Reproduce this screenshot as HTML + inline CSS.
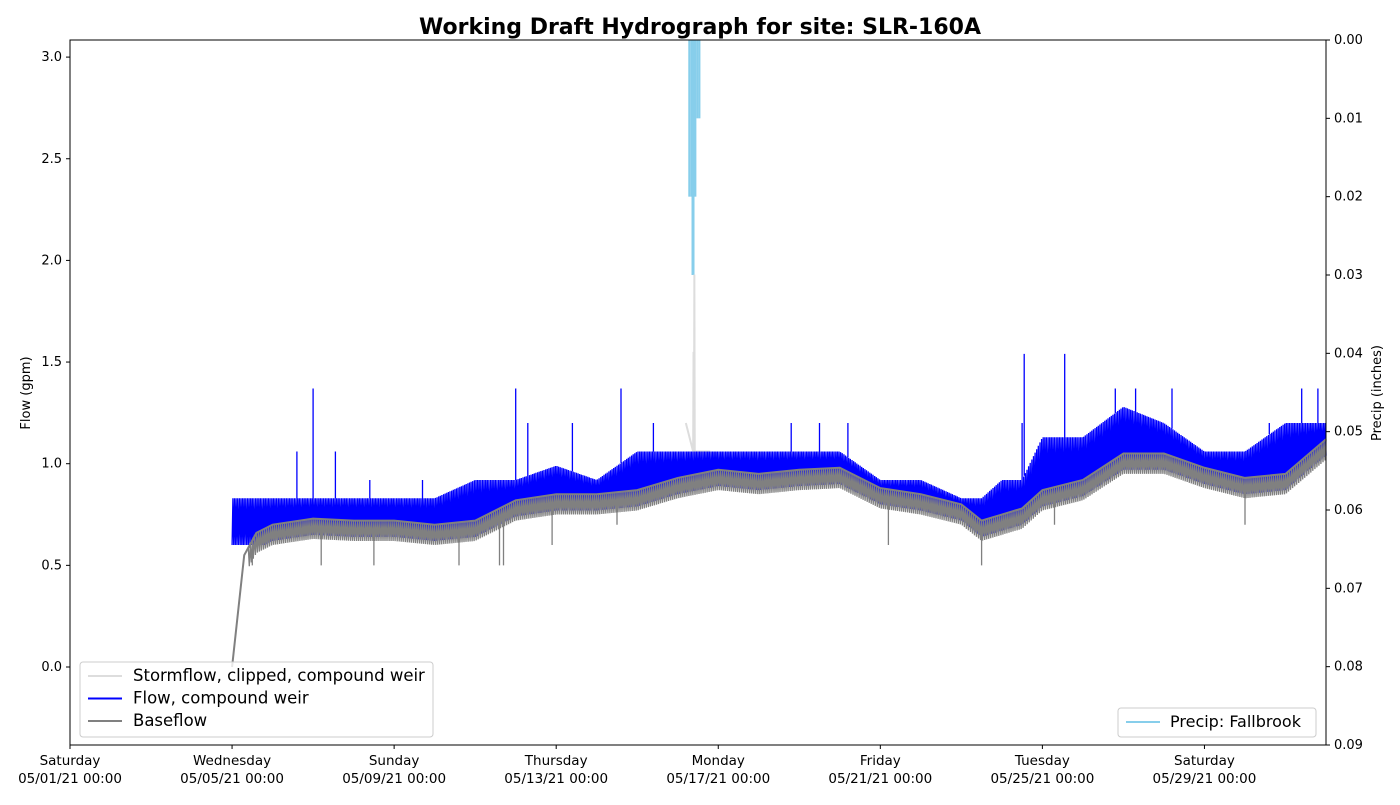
<!DOCTYPE html>
<html><head><meta charset="utf-8"><style>
body{margin:0;background:#fff;font-family:"Liberation Sans",sans-serif}
svg text{font-family:"DejaVu Sans","Liberation Sans",sans-serif}
</style></head><body>
<svg id="c" width="1400" height="800" xmlns="http://www.w3.org/2000/svg">
<rect width="1400" height="800" fill="#fff"/>
<text x="700" y="34" text-anchor="middle" font-size="22" font-weight="bold">Working Draft Hydrograph for site: SLR-160A</text>
<text transform="translate(30,393) rotate(-90)" text-anchor="middle" font-size="13">Flow (gpm)</text>
<text transform="translate(1381,393) rotate(-90)" text-anchor="middle" font-size="13">Precip (inches)</text>
<g id="plot"></g>
</svg>
<script>
const days=[4,4.3,4.6,5,6,7,8,9,10,11,12,13,14,15,16,17,18,19,20,21,22,22.5,23,23.5,24,25,26,27,28,29,30,31];
const baseflow=[0,0.55,0.66,0.7,0.73,0.72,0.72,0.7,0.72,0.82,0.85,0.85,0.87,0.93,0.97,0.95,0.97,0.98,0.88,0.85,0.8,0.72,0.75,0.78,0.87,0.92,1.05,1.05,0.98,0.93,0.95,1.12];
const flowHigh=[0.83,0.83,0.83,0.83,0.83,0.83,0.83,0.83,0.92,0.92,0.99,0.92,1.06,1.06,1.06,1.06,1.06,1.06,0.92,0.92,0.83,0.83,0.92,0.92,1.13,1.13,1.28,1.2,1.06,1.06,1.2,1.2];
const flowSpikeDays=[5.6,6.0,6.55,7.4,8.7,11.0,11.3,12.4,13.6,14.4,17.8,18.5,19.2,23.5,23.55,24.55,25.8,26.3,27.2,29.6,30.4,30.8];
const flowSpikeVals=[1.06,1.37,1.06,0.92,0.92,1.37,1.2,1.2,1.37,1.2,1.2,1.2,1.2,1.2,1.54,1.54,1.37,1.37,1.37,1.2,1.37,1.37];
const lowSpikeDays=[4.5,6.2,7.5,9.6,10.6,10.7,11.9,13.5,20.2,22.5,24.3,29.0];
const lowSpikeVals=[0.5,0.5,0.5,0.5,0.5,0.5,0.6,0.7,0.6,0.5,0.7,0.7];
const stormDays=[15.2,15.38,15.39,15.4,15.41,15.42,15.6,15.8];
const stormVals=[1.2,1.06,1.55,1.06,1.93,1.06,1.06,1.06];
const precipDays=[15.26,15.31,15.36,15.41,15.46,15.51];
const precipVals=[0.02,0.02,0.02,0.02,0.01,0.01];
const precipPeakDay=[15.34];const precipPeakVal=[0.03];
const xTickLabels=[["Saturday","05/01/21 00:00"],["Wednesday","05/05/21 00:00"],["Sunday","05/09/21 00:00"],["Thursday","05/13/21 00:00"],["Monday","05/17/21 00:00"],["Friday","05/21/21 00:00"],["Tuesday","05/25/21 00:00"],["Saturday","05/29/21 00:00"]];
const yTicks=[0,0.5,1,1.5,2,2.5,3];
const y2Ticks=[0,0.01,0.02,0.03,0.04,0.05,0.06,0.07,0.08,0.09];

const L=70,R=1326,T=40,B=745,NS="http://www.w3.org/2000/svg";
const X=d=>L+(R-L)*d/31;
const Y=v=>667-203.3*v;
const Y2=p=>T+(B-T)*p/0.09;
const g=document.getElementById('plot');
function el(t,a,p){const e=document.createElementNS(NS,t);for(const k in a)e.setAttribute(k,a[k]);(p||g).appendChild(e);return e;}
function interp(arr,d){for(let i=0;i<days.length-1;i++){if(d>=days[i]&&d<=days[i+1]){const f=(d-days[i])/(days[i+1]-days[i]);return arr[i]+f*(arr[i+1]-arr[i]);}}return arr[arr.length-1];}

precipDays.forEach((d,i)=>{const r=el('rect',{x:X(d),y:T,width:X(0.05)-X(0),height:Y2(precipVals[i])-T,fill:'#87ceeb'});

});
precipPeakDay.forEach((d,i)=>{const r=el('rect',{x:X(d),y:T,width:3,height:Y2(precipPeakVal[i])-T,fill:'#87ceeb'});

});

const sb=el('rect',{x:X(15.2),y:Y(1.06),width:X(16)-X(15.2),height:Y(0.93)-Y(1.06),fill:'#e6e6e6'});


let sp='';stormDays.forEach((d,i)=>{sp+=(i?'L':'M')+X(d)+','+Y(stormVals[i]);});
const st=el('path',{d:sp,fill:'none',stroke:'#dddddd','stroke-width':2});



let fp='',k=0;
for(let d=4;d<=31;d+=0.02,k++){const v=k%2?interp(flowHigh,d):interp(baseflow,d)-0.08;fp+=(k?'L':'M')+X(d).toFixed(1)+','+Y(Math.max(v,0.6)).toFixed(1);}
flowSpikeDays.forEach((d,i)=>{fp+='M'+X(d).toFixed(1)+','+Y(interp(flowHigh,d)).toFixed(1)+'L'+X(d).toFixed(1)+','+Y(flowSpikeVals[i]).toFixed(1);});
const fl=el('path',{d:fp,fill:'none',stroke:'#0000ff','stroke-width':1.3});



let gp='';k=0;
for(let d=4.4;d<=31;d+=0.025,k++){const b=interp(baseflow,d);const v=k%2?b-0.1:b;gp+=(k?'L':'M')+X(d).toFixed(1)+','+Y(v).toFixed(1);}
lowSpikeDays.forEach((d,i)=>{gp+='M'+X(d).toFixed(1)+','+Y(interp(baseflow,d)).toFixed(1)+'L'+X(d).toFixed(1)+','+Y(lowSpikeVals[i]).toFixed(1);});
const gb=el('path',{d:gp,fill:'none',stroke:'#808080','stroke-width':1.3});


let bp='';days.forEach((d,i)=>{bp+=(i?'L':'M')+X(d)+','+Y(baseflow[i]);});
const bl=el('path',{d:bp,fill:'none',stroke:'#808080','stroke-width':2});



const fr=el('rect',{x:L,y:T,width:R-L,height:B-T,fill:'none',stroke:'#000','stroke-width':1});


yTicks.forEach(v=>{el('line',{x1:L-4,x2:L,y1:Y(v),y2:Y(v),stroke:'#000'});
const t=el('text',{x:L-8,y:Y(v)+4,'text-anchor':'end','font-size':13});t.textContent=v.toFixed(1);

});
y2Ticks.forEach(p=>{el('line',{x1:R,x2:R+4,y1:Y2(p),y2:Y2(p),stroke:'#000'});
const t=el('text',{x:R+8,y:Y2(p)+4,'font-size':13});t.textContent=p.toFixed(2);

});
xTickLabels.forEach((lb,i)=>{const x=X(i*4);el('line',{x1:x,x2:x,y1:B,y2:B+4,stroke:'#000'});
const t=el('text',{x:x,y:B+20,'text-anchor':'middle','font-size':13.5});t.textContent=lb[0];


const t2=el('text',{x:x,y:B+38,'text-anchor':'middle','font-size':13.5});t2.textContent=lb[1];

});

const lg=el('g',{});
el('rect',{x:80,y:662,width:353,height:75,rx:3,fill:'#fff','fill-opacity':0.8,stroke:'#ccc'},lg);
[['Stormflow, clipped, compound weir','#dddddd'],['Flow, compound weir','#0000ff'],['Baseflow','#808080']].forEach((e,i)=>{
const y=676+i*22.5;el('line',{x1:88,x2:122,y1:y,y2:y,stroke:e[1],'stroke-width':2},lg);
const t=el('text',{x:133,y:y+5,'font-size':16.5},lg);t.textContent=e[0];

});
const lg2=el('g',{});
el('rect',{x:1118,y:708,width:198,height:29,rx:3,fill:'#fff','fill-opacity':0.8,stroke:'#ccc'},lg2);
el('line',{x1:1126,x2:1160,y1:722,y2:722,stroke:'#87ceeb','stroke-width':2},lg2);
const pt=el('text',{x:1170,y:727,'font-size':16},lg2);pt.textContent='Precip: Fallbrook';


</script>
</body></html>
